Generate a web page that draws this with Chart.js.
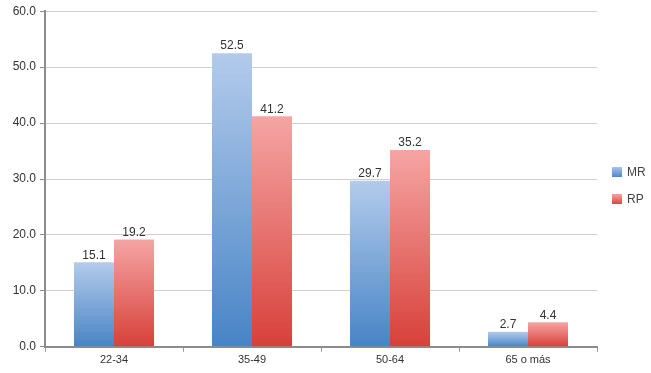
<!DOCTYPE html>
<html>
<head>
<meta charset="utf-8">
<script src="https://cdn.jsdelivr.net/npm/chart.js@4"></script>
<style>
  html, body { margin: 0; padding: 0; background: #fff; }
  #wrap { width: 651px; height: 373px; }
</style>
</head>
<body>
<div id="wrap"><canvas id="chart"></canvas></div>
<script>
var categories = ['22-34', '35-49', '50-64', '65 o más'];
var mrValues = [15.1, 52.5, 29.7, 2.7];
var rpValues = [19.2, 41.2, 35.2, 4.4];
var yTicks = [0, 10, 20, 30, 40, 50, 60];
var seriesNames = ['MR', 'RP'];

var FONT = '"Liberation Sans", Arial, sans-serif';

function barGradient(top, bottom) {
    return function (context) {
        var chart = context.chart;
        var area = chart.chartArea;
        if (!area || context.type !== 'data') return bottom;
        var y = chart.scales.y;
        var yTop = y.getPixelForValue(context.raw);
        var yBase = y.getPixelForValue(0);
        var g = chart.ctx.createLinearGradient(0, yTop, 0, yBase);
        g.addColorStop(0, top);
        g.addColorStop(1, bottom);
        return g;
    };
}

var valueLabels = {
    id: 'valueLabels',
    afterDatasetsDraw: function (chart) {
        var ctx = chart.ctx;
        ctx.save();
        ctx.font = '12px ' + FONT;
        ctx.fillStyle = '#333';
        ctx.textAlign = 'center';
        ctx.textBaseline = 'bottom';
        chart.data.datasets.forEach(function (ds, i) {
            chart.getDatasetMeta(i).data.forEach(function (bar, j) {
                ctx.fillText(ds.data[j].toFixed(1), bar.x, bar.y - 1);
            });
        });
        ctx.restore();
    }
};

// legend drawn on the right, in the space left by layout padding
var sideLegend = {
    id: 'sideLegend',
    afterDraw: function (chart) {
        var ctx = chart.ctx;
        ctx.save();
        ctx.font = '12px ' + FONT;
        ctx.textBaseline = 'middle';
        chart.data.datasets.forEach(function (ds, i) {
            var cy = 172 + i * 27;
            var g = ctx.createLinearGradient(0, cy - 5, 0, cy + 5);
            g.addColorStop(0, ds.legendTop);
            g.addColorStop(1, ds.legendBottom);
            ctx.fillStyle = g;
            ctx.fillRect(612, cy - 5, 10, 10);
            ctx.fillStyle = '#444';
            ctx.fillText(ds.label, 627, cy + 1);
        });
        ctx.restore();
    }
};

new Chart(document.getElementById('chart'), {
    type: 'bar',
    data: {
        labels: categories,
        datasets: [
            {
                label: seriesNames[0],
                data: mrValues,
                backgroundColor: barGradient('#b3cbeb', '#4784c6'),
                legendTop: '#a9c4ea',
                legendBottom: '#4e88c8'
            },
            {
                label: seriesNames[1],
                data: rpValues,
                backgroundColor: barGradient('#f5a5a3', '#d8403a'),
                legendTop: '#f4a4a2',
                legendBottom: '#da4640'
            }
        ]
    },
    options: {
        animation: false,
        responsive: true,
        maintainAspectRatio: false,
        layout: { padding: { top: 7, right: 54, left: 0, bottom: 4 } },
        datasets: {
            bar: { categoryPercentage: 0.58, barPercentage: 1.0 }
        },
        plugins: {
            tooltip: { enabled: false },
            legend: { display: false }
        },
        scales: {
            x: {
                grid: {
                    display: true,
                    drawOnChartArea: false,
                    offset: true,
                    tickLength: 5,
                    color: '#999'
                },
                border: { color: '#8c8c8c', width: 2 },
                ticks: {
                    color: '#333',
                    padding: 2,
                    font: { family: FONT, size: 11 }
                }
            },
            y: {
                min: 0,
                max: 60,
                afterBuildTicks: function (axis) {
                    axis.ticks = yTicks.map(function (v) { return { value: v }; });
                },
                afterFit: function (axis) { axis.width = 45; },
                grid: {
                    color: '#cfcfcf',
                    tickColor: '#8c8c8c',
                    tickLength: 5,
                    lineWidth: 1
                },
                border: { color: '#8c8c8c', width: 2 },
                ticks: {
                    color: '#333',
                    padding: 4,
                    font: { family: FONT, size: 12 },
                    callback: function (v) { return Number(v).toFixed(1); }
                }
            }
        }
    },
    plugins: [valueLabels, sideLegend]
});
</script>
</body>
</html>
